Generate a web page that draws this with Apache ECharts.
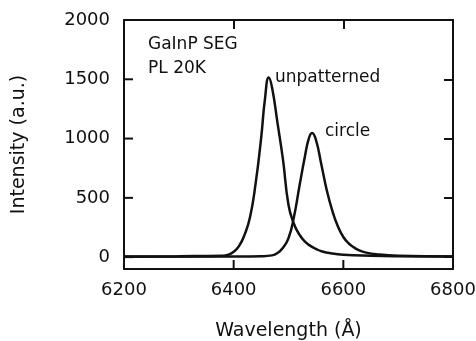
<!DOCTYPE html>
<html>
<head>
<meta charset="utf-8">
<script src="https://cdn.jsdelivr.net/npm/echarts@6/dist/echarts.min.js"></script>
<style>
  html, body {margin: 0; padding: 0; background: #fff;}
  #chart {width: 476px; height: 341px;}
</style>
</head>
<body>
<div id="chart"></div>
<script>
// PL spectra, GaInP SEG at 20K
const unpatternedWl = [6200, 6300, 6380, 6390, 6400, 6410, 6420, 6430, 6440, 6450, 6457, 6464, 6470, 6480, 6490, 6500, 6510, 6520, 6530, 6540, 6550, 6560, 6580, 6600, 6650, 6700, 6800];
const unpatternedVal = [5, 8, 12, 20, 45, 95, 190, 340, 620, 1000, 1330, 1515, 1430, 1130, 820, 440, 280, 190, 130, 95, 70, 50, 30, 20, 12, 8, 5];

const circleWl = [6200, 6400, 6450, 6470, 6480, 6490, 6500, 6510, 6520, 6530, 6537, 6543, 6550, 6560, 6570, 6580, 6590, 6600, 6610, 6620, 6630, 6640, 6660, 6700, 6800];
const circleVal = [3, 5, 8, 15, 35, 80, 160, 340, 600, 850, 1000, 1048, 990, 780, 560, 390, 260, 170, 115, 80, 55, 40, 25, 12, 5];

const xTicks = [6200, 6400, 6600, 6800];
const yTicks = [0, 500, 1000, 1500, 2000];
const xMin = 6200, xMax = 6800, yMin = -100, yMax = 2000;

const font = 'DejaVu Sans';
const ink = '#111';
const tickLen = 9;

const pairs = (xs, ys) => xs.map((x, i) => [x, ys[i]]);

const myChart = echarts.init(document.getElementById('chart'));

const tick = values => ({show: true, inside: true, length: tickLen, customValues: values, lineStyle: {color: ink, width: 2}});
const line = () => ({show: true, onZero: false, lineStyle: {color: ink, width: 2}});

const xAxis = (position, extra) => ({
    type: 'value',
    position: position,
    min: xMin,
    max: xMax,
    interval: 200,
    axisLine: line(),
    axisTick: tick(xTicks),
    axisLabel: {show: false},
    splitLine: {show: false},
    ...extra
});
const yAxis = (position, extra) => ({
    type: 'value',
    position: position,
    min: yMin,
    max: yMax,
    axisLine: line(),
    axisTick: tick(yTicks),
    axisLabel: {show: false},
    splitLine: {show: false},
    ...extra
});

// inward tick marks on the bottom and left edges, placed through the axes' scales
const tickSeries = (data, dx, dy) => ({
    type: 'custom',
    xAxisIndex: 0,
    yAxisIndex: 0,
    silent: true,
    z: 5,
    data: data,
    renderItem: (params, api) => {
        const p = api.coord([api.value(0), api.value(1)]);
        return {
            type: 'line',
            shape: {x1: p[0], y1: p[1], x2: p[0] + dx, y2: p[1] + dy},
            style: {stroke: ink, lineWidth: 2}
        };
    }
});

const option = {
    animation: false,
    grid: {left: 124, right: 23, top: 20, bottom: 72, outerBoundsMode: 'none'},
    xAxis: [
        xAxis('bottom', {
            name: 'Wavelength (Å)',
            nameLocation: 'middle',
            nameGap: 53,
            nameTextStyle: {fontFamily: font, fontSize: 19, color: ink},
            axisTick: {show: false},
            axisLabel: {margin: 12, fontFamily: font, fontSize: 18, color: ink, customValues: xTicks, formatter: v => String(v)}
        }),
        xAxis('top')
    ],
    yAxis: [
        yAxis('left', {
            name: 'Intensity (a.u.)',
            nameLocation: 'middle',
            nameGap: 95,
            nameTextStyle: {fontFamily: font, fontSize: 19, color: ink},
            axisTick: {show: false},
            axisLabel: {margin: 14, fontFamily: font, fontSize: 18, color: ink, customValues: yTicks, formatter: v => String(v)}
        }),
        yAxis('right')
    ],
    graphic: [
        {type: 'text', left: 148, top: 36, style: {text: 'GaInP SEG', font: '17px DejaVu Sans', fill: ink}},
        {type: 'text', left: 148, top: 60, style: {text: 'PL 20K', font: '17px DejaVu Sans', fill: ink}},
        {type: 'text', left: 275, top: 69, style: {text: 'unpatterned', font: '17px DejaVu Sans', fill: ink}},
        {type: 'text', left: 325, top: 123, style: {text: 'circle', font: '17px DejaVu Sans', fill: ink}}
    ],
    series: [
        ...[
            {name: 'unpatterned', data: pairs(unpatternedWl, unpatternedVal)},
            {name: 'circle', data: pairs(circleWl, circleVal)}
        ].map(obj => ({
            ...obj,
            type: 'line',
            xAxisIndex: 0,
            yAxisIndex: 0,
            smooth: true,
            showSymbol: false,
            lineStyle: {color: ink, width: 2.5}
        })),
        tickSeries(xTicks.map(v => [v, yMin]), 0, -tickLen),
        tickSeries(yTicks.map(v => [xMin, v]), tickLen, 0)
    ]
};
myChart.setOption(option);
</script>
</body>
</html>
